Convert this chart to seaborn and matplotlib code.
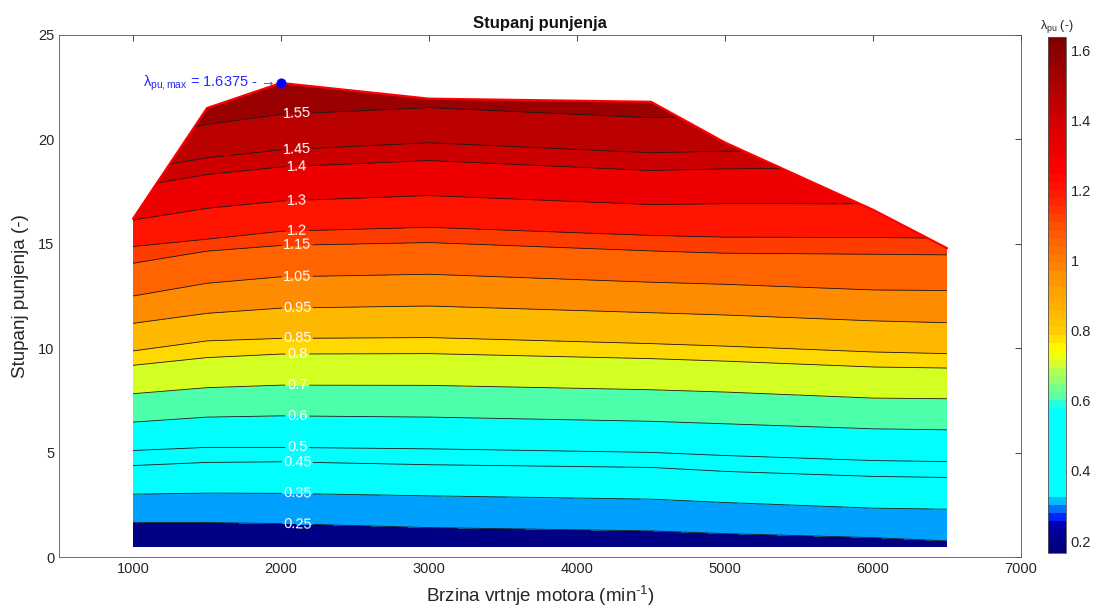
import numpy as np
import seaborn as sns
import matplotlib.pyplot as plt
from matplotlib.colors import LinearSegmentedColormap, Normalize
from matplotlib.cm import ScalarMappable
from matplotlib.ticker import FuncFormatter

nan = np.nan

# engine speed columns (min^-1)
speeds = [1000, 1500, 2000, 3000, 4500, 5000, 6000, 6500]

# contour levels of lambda_pu
levels = [0.25, 0.35, 0.45, 0.5, 0.6, 0.7, 0.8, 0.85, 0.95, 1.05, 1.15, 1.2, 1.3, 1.4, 1.45, 1.55]

# y position of every level at each speed (nan = level not reached)
y_n1000 = [1.65, 3.01, 4.38, 5.10, 6.46, 7.82, 9.18, 9.87, 11.19, 12.50, 14.07, 14.87, nan, nan, nan, nan]
y_n1500 = [1.65, 3.06, 4.53, 5.25, 6.70, 8.11, 9.55, 10.35, 11.67, 13.11, 14.65, 15.22, 16.70, 18.32, 19.12, 20.72]
y_n2000 = [1.60, 3.05, 4.56, 5.25, 6.76, 8.23, 9.72, 10.47, 11.92, 13.42, 14.92, 15.60, 17.05, 18.68, 19.50, 21.20]
y_n3000 = [1.41, 2.93, 4.42, 5.18, 6.70, 8.22, 9.74, 10.51, 12.02, 13.54, 15.06, 15.79, 17.31, 18.99, 19.84, 21.52]
y_n4500 = [1.25, 2.77, 4.29, 5.01, 6.50, 8.01, 9.50, 10.22, 11.70, 13.16, 14.66, 15.40, 16.88, 18.51, 19.36, 21.04]
y_n5000 = [1.12, 2.61, 4.10, 4.86, 6.38, 7.90, 9.38, 10.10, 11.59, 13.06, 14.55, 15.32, 16.92, 18.59, 19.44, nan]
y_n6000 = [0.93, 2.34, 3.86, 4.62, 6.14, 7.61, 9.10, 9.82, 11.31, 12.79, 14.50, 15.30, nan, nan, nan, nan]
y_n6500 = [0.77, 2.29, 3.81, 4.57, 6.09, 7.58, 9.05, 9.74, 11.22, 12.76, 14.47, nan, nan, nan, nan, nan]

# lower and upper limit of the map with lambda there
y_bottom = [0.5, 0.5, 0.5, 0.5, 0.5, 0.5, 0.5, 0.5]
lam_bottom = [0.166, 0.166, 0.17, 0.19, 0.20, 0.21, 0.22, 0.232]
y_top = [16.2, 21.5, 22.7, 21.95, 21.8, 19.85, 16.63, 14.79]
lam_top = [1.305, 1.60, 1.6375, 1.58, 1.595, 1.475, 1.283, 1.17]

band_colors = ['#000085', '#00A0FF', '#00FFFF', '#00FFFF', '#00FFFF', '#4DFFAA', '#D4FF22',
               '#FFD800', '#FFB800', '#FF8C00', '#FF6400', '#FF3C00', '#FF1400', '#EE0000',
               '#CC0000', '#BB0000', '#990000']

sns.set_theme(style='white')
plt.rcParams['font.family'] = ['Liberation Sans', 'DejaVu Sans']
plt.rcParams['mathtext.fontset'] = 'custom'
plt.rcParams['mathtext.rm'] = 'Liberation Sans'
plt.rcParams['mathtext.it'] = 'Liberation Sans:italic'
plt.rcParams['mathtext.bf'] = 'Liberation Sans:bold'
plt.rcParams['mathtext.default'] = 'regular'

# build curvilinear grid: rows = bottom, levels, top
cols = [y_n1000, y_n1500, y_n2000, y_n3000, y_n4500, y_n5000, y_n6000, y_n6500]
nr = len(levels) + 2
X = np.tile(np.array(speeds, float), (nr, 1))
Y = np.zeros((nr, len(speeds)))
Z = np.zeros((nr, len(speeds)))
for j, col in enumerate(cols):
    col = np.array(col)
    miss = np.isnan(col)
    Y[0, j], Z[0, j] = y_bottom[j], lam_bottom[j]
    Y[1:-1, j] = np.where(miss, y_top[j], col)
    Z[1:-1, j] = np.where(miss, lam_top[j], levels)
    Y[-1, j], Z[-1, j] = y_top[j], lam_top[j]

eps = 1e-6
line_levels = [l + eps for l in levels]
fill_levels = [0.0] + line_levels + [2.0]

fig = plt.figure(figsize=(10.97, 6.15), dpi=100)
ax = fig.add_axes([0.0538, 0.0943, 0.8769, 0.8488])
cax = fig.add_axes([0.9553, 0.1008, 0.0164, 0.839])

ax.contourf(X, Y, Z, levels=fill_levels, colors=band_colors)
cs = ax.contour(X, Y, Z, levels=line_levels, colors='k', linewidths=0.6)


def fmt(v):
    return ('%.2f' % v).rstrip('0').rstrip('.')


positions = [(2110, y) for y in y_n2000]
ax.clabel(cs, fmt=fmt, colors='white', fontsize=10.5, inline=True, inline_spacing=4, manual=positions)

# upper limit and max point
sns.lineplot(x=speeds, y=y_top, color='red', linewidth=1.6, sort=False, ax=ax, legend=False)
imax = int(np.argmax(lam_top))
sns.scatterplot(x=[speeds[imax]], y=[y_top[imax]], color='#0000FF', s=45, edgecolor='#0000FF',
                ax=ax, zorder=5, legend=False)
ax.annotate('λ$_{pu,max}$ = %.4f - →' % lam_top[imax], xy=(speeds[imax], y_top[imax]),
            xytext=(-5, 0), textcoords='offset points', ha='right', va='center',
            color='#2828FF', fontsize=10.5)

ax.set_xlim(500, 7000)
ax.set_ylim(0, 25)
ax.set_xticks(range(1000, 7001, 1000))
ax.set_yticks(range(0, 26, 5))
ax.tick_params(direction='in', top=True, right=True, length=4, width=0.6,
               labelsize=10.5, colors='#262626')
for s in ax.spines.values():
    s.set_linewidth(0.6)
    s.set_color('#555555')
ax.set_title('Stupanj punjenja', fontsize=12, fontweight='bold', color='#111111', pad=5)
ax.set_xlabel('Brzina vrtnje motora (min$^{\\text{-}1}$)', fontsize=13.5, color='#262626', labelpad=6)
ax.set_ylabel('Stupanj punjenja (-)', fontsize=13.5, color='#262626', labelpad=6)

# colorbar
cb_anchor = [(0.166, '#00007F'), (0.232, '#00009A'), (0.25, '#0000FF'), (0.272, '#0050FF'),
             (0.30, '#00A0FF'), (0.32, '#00FFFF'), (0.575, '#00FFFF'), (0.60, '#4DFFB2'),
             (0.64, '#80FF80'), (0.69, '#C0FF40'), (0.72, '#E8FF10'), (0.74, '#FFFF00'),
             (0.79, '#FFD000'), (0.87, '#FFB000'), (0.96, '#FF9000'), (1.03, '#FF7000'),
             (1.10, '#FF5000'), (1.18, '#FF2000'), (1.26, '#FF0000'), (1.36, '#E00000'),
             (1.46, '#C00000'), (1.54, '#A00000'), (1.6375, '#800000')]
vmin, vmax = min(lam_bottom), max(lam_top)
cmap = LinearSegmentedColormap.from_list(
    'lam', [((v - vmin) / (vmax - vmin), c) for v, c in cb_anchor], N=64)
sm = ScalarMappable(norm=Normalize(vmin, vmax), cmap=cmap)
cb = fig.colorbar(sm, cax=cax, ticks=np.arange(0.2, 1.61, 0.2))
cb.ax.yaxis.set_major_formatter(FuncFormatter(lambda v, p: '%g' % round(v, 2)))
cb.ax.tick_params(direction='in', length=3, width=0.6, labelsize=10.5, colors='#262626')
cb.outline.set_linewidth(0.6)
cb.outline.set_edgecolor('#555555')
cax.set_title('λ$_{pu}$ (-)', fontsize=9, color='#262626', pad=6)

fig.savefig('out.png', dpi=100)
